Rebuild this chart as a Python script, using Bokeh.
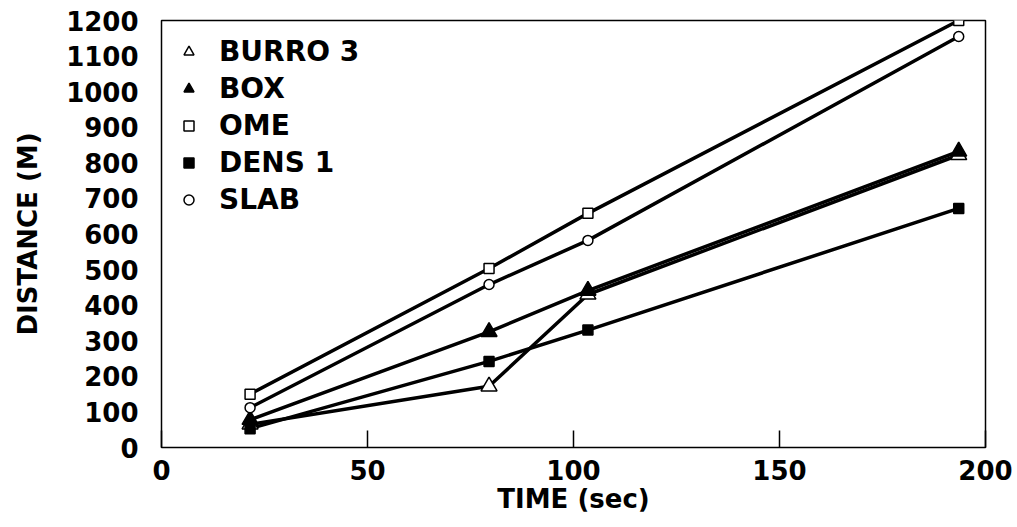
from bokeh.plotting import figure
from bokeh.models import Range1d, Legend, LegendItem, FixedTicker
from bokeh.embed import file_html
from bokeh.resources import INLINE

# ---- data ----
time_sec = [21.5, 79.5, 103.5, 193.5]
burro3 = [65, 172, 430, 822]
box = [78, 325, 441, 832]
ome = [150, 503, 658, 1200]
dens1 = [53, 242, 330, 672]
slab = [112, 458, 582, 1155]

x_ticks = [0, 50, 100, 150, 200]
y_ticks = [0, 100, 200, 300, 400, 500, 600, 700, 800, 900, 1000, 1100, 1200]

FONT = "DejaVu Sans"

p = figure(width=1017, height=527,
           x_range=Range1d(0, 200), y_range=Range1d(0, 1200),
           output_backend="svg", toolbar_location=None,
           min_border_left=161, min_border_right=32,
           min_border_top=20, min_border_bottom=80)

p.background_fill_color = "white"
p.border_fill_color = "white"
p.outline_line_color = "black"
p.outline_line_width = 1.5
p.xgrid.visible = False
p.ygrid.visible = False

# axes
p.xaxis.ticker = FixedTicker(ticks=x_ticks)
p.yaxis.ticker = FixedTicker(ticks=y_ticks)
for ax in (p.xaxis, p.yaxis):
    ax.axis_line_color = None
    ax.minor_tick_line_color = None
    ax.major_label_text_font = FONT
    ax.major_label_text_font_style = "bold"
    ax.major_label_text_font_size = "26px"
    ax.major_label_text_color = "black"
    ax.axis_label_text_font = FONT
    ax.axis_label_text_font_style = "bold"
    ax.axis_label_text_font_size = "26px"
    ax.axis_label_text_color = "black"

p.xaxis.axis_label = "TIME (sec)"
p.xaxis.major_tick_in = 17
p.xaxis.major_tick_out = 0
p.xaxis.major_tick_line_color = "black"
p.xaxis.major_tick_line_width = 1.5
p.xaxis.major_label_standoff = 12
p.xaxis.axis_label_standoff = 1

p.yaxis.axis_label = "DISTANCE (M)"
p.yaxis.major_tick_line_color = None
p.yaxis.major_tick_in = 0
p.yaxis.major_tick_out = 0
p.yaxis.major_label_standoff = 23
p.yaxis.axis_label_standoff = 20

series = [
    ("BURRO 3", burro3, "triangle", 16, "white"),
    ("BOX", box, "triangle", 16, "black"),
    ("OME", ome, "square", 10, "white"),
    ("DENS 1", dens1, "square", 10, "black"),
    ("SLAB", slab, "circle", 10, "white"),
]

for name, ys, marker, size, fill in series:
    p.line(time_sec, ys, line_color="black", line_width=3.5)

items = []
for name, ys, marker, size, fill in series:
    r = p.scatter(time_sec, ys, marker=marker, size=size,
                  fill_color=fill, line_color="black", line_width=1.5)
    items.append(LegendItem(label=name, renderers=[r]))

legend = Legend(items=items, location="top_left")
legend.margin = 15
legend.padding = 12
legend.spacing = 4
legend.glyph_width = 25
legend.glyph_height = 25
legend.label_height = 25
legend.label_standoff = 18
legend.label_text_font = FONT
legend.label_text_font_style = "bold"
legend.label_text_font_size = "28px"
legend.label_text_color = "black"
legend.border_line_color = None
legend.background_fill_alpha = 0
p.add_layout(legend)

open("out.html", "w").write(file_html(p, INLINE))
